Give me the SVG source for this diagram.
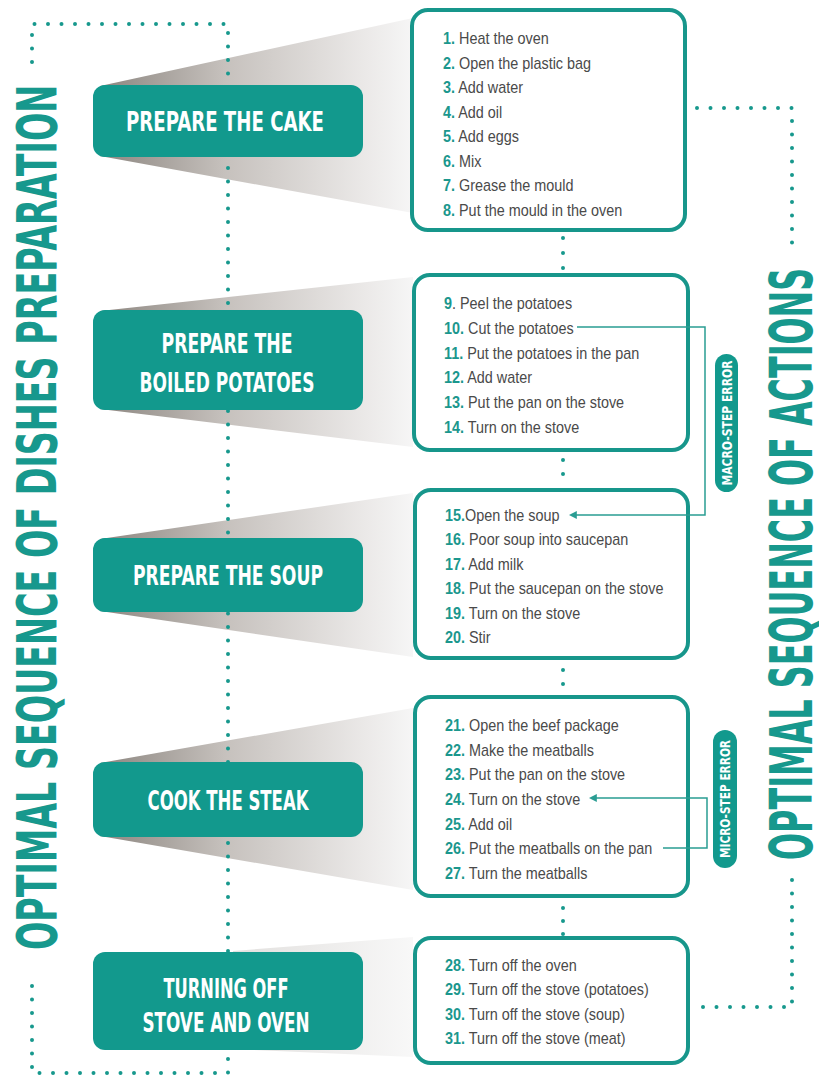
<svg xmlns="http://www.w3.org/2000/svg" width="819" height="1078" viewBox="0 0 819 1078">
  <defs>
    <style>
      .title { font-family: "DejaVu Sans Condensed", "DejaVu Sans", sans-serif; font-stretch: condensed; font-weight: bold; fill: #17988d; }
      .dish-box { fill: #12998d; }
      .dish-text { font-family: "DejaVu Sans Condensed", "DejaVu Sans", sans-serif; font-stretch: condensed; font-weight: bold; font-size: 27px; fill: #ffffff; text-anchor: middle; }
      .step-box { fill: #ffffff; stroke: #17968b; stroke-width: 4; }
      .step { font-family: "Liberation Sans", Arial, sans-serif; font-size: 16px; fill: #4a4a4a; }
      .n { font-weight: bold; fill: #1b978d; }
      .dots { fill: none; stroke: #17988d; stroke-width: 4; stroke-linecap: round; }
      .link { fill: none; stroke: #2a9d93; stroke-width: 1.5; }
      .pill { fill: #12998d; }
      .pill-text { font-family: "DejaVu Sans Condensed", "DejaVu Sans", sans-serif; font-stretch: condensed; font-weight: bold; font-size: 14px; fill: #ffffff; text-anchor: middle; }
    </style>
    <linearGradient id="fan" gradientUnits="userSpaceOnUse" x1="100" y1="0" x2="413" y2="0">
      <stop offset="0" stop-color="#8c8680"/>
      <stop offset="0.4" stop-color="#c6c1bd"/>
      <stop offset="0.85" stop-color="#ebe9e8"/>
      <stop offset="1" stop-color="#f6f6f6"/>
    </linearGradient>
    <linearGradient id="fan-pale" gradientUnits="userSpaceOnUse" x1="233" y1="0" x2="413" y2="0">
      <stop offset="0" stop-color="#e2e0de"/>
      <stop offset="1" stop-color="#f8f8f8"/>
    </linearGradient>
    <marker id="arrow" viewBox="0 0 10 10" refX="1" refY="5" markerWidth="8" markerHeight="8" orient="auto" markerUnits="userSpaceOnUse">
      <path d="M10,5 L0,0 L0,10 Z" fill="#2a9d93"/>
    </marker>
  </defs>

  <rect width="819" height="1078" fill="#ffffff"/>

  <!-- fan-shaped shading from each dish to its list of actions -->
  <g id="shading">
    <polygon points="100,86 413,18 413,213 100,156" fill="url(#fan)"/>
    <polygon points="100,311 413,277 413,447 100,409" fill="url(#fan)"/>
    <polygon points="100,539 413,493 413,657 100,611" fill="url(#fan)"/>
    <polygon points="100,763 413,708 413,890 100,836" fill="url(#fan)"/>
    <polygon points="233,951 413,937 413,1057 233,1049" fill="url(#fan-pale)"/>
  </g>

  <!-- dotted frames and the chain between the lists -->
  <g id="connectors">
    <path class="dots" stroke-dasharray="0 13.5" d="M32,62 V24 H228 V1073 H32 V978"/>
    <path class="dots" stroke-dasharray="0 13.5" d="M697,108 H792 V256"/>
    <path class="dots" stroke-dasharray="0 13.5" d="M792,880 V1007 H697"/>
    <path class="dots" stroke-dasharray="0 15" d="M563,238 V272"/>
    <path class="dots" stroke-dasharray="0 14" d="M563,460 V488"/>
    <path class="dots" stroke-dasharray="0 14" d="M563,670 V696"/>
    <path class="dots" stroke-dasharray="0 13" d="M563,908 V936"/>
  </g>

  <!-- side titles (narrowed along the reading direction) -->
  <g id="title-dishes">
    <text class="title" font-size="55" transform="translate(56,950) rotate(-90) scale(0.6,1)" textLength="1442" lengthAdjust="spacingAndGlyphs">OPTIMAL  SEQUENCE  OF  DISHES  PREPARATION</text>
  </g>
  <g id="title-actions">
    <text class="title" font-size="58" transform="translate(812,860) rotate(-90) scale(0.6,1)" textLength="987" lengthAdjust="spacingAndGlyphs">OPTIMAL SEQUENCE OF ACTIONS</text>
  </g>

  <!-- dishes -->
  <g id="dish-cake">
    <rect class="dish-box" x="93" y="85" width="270" height="72" rx="12"/>
    <text class="dish-text" x="225" y="131" textLength="198" lengthAdjust="spacingAndGlyphs">PREPARE THE CAKE</text>
  </g>
  <g id="dish-potatoes">
    <rect class="dish-box" x="93" y="310" width="270" height="100" rx="12"/>
    <text class="dish-text" x="227" y="353" textLength="131" lengthAdjust="spacingAndGlyphs">PREPARE THE</text>
    <text class="dish-text" x="227" y="392" textLength="175" lengthAdjust="spacingAndGlyphs">BOILED POTATOES</text>
  </g>
  <g id="dish-soup">
    <rect class="dish-box" x="93" y="538" width="270" height="74" rx="12"/>
    <text class="dish-text" x="228" y="585" textLength="190" lengthAdjust="spacingAndGlyphs">PREPARE THE SOUP</text>
  </g>
  <g id="dish-steak">
    <rect class="dish-box" x="93" y="762" width="270" height="75" rx="12"/>
    <text class="dish-text" x="228" y="810" textLength="161" lengthAdjust="spacingAndGlyphs">COOK THE STEAK</text>
  </g>
  <g id="dish-off">
    <rect class="dish-box" x="93" y="952" width="270" height="98" rx="12"/>
    <text class="dish-text" x="226" y="998" textLength="125" lengthAdjust="spacingAndGlyphs">TURNING OFF</text>
    <text class="dish-text" x="226" y="1032" textLength="167" lengthAdjust="spacingAndGlyphs">STOVE AND OVEN</text>
  </g>

  <!-- action lists -->
  <g id="steps-cake">
    <rect class="step-box" x="412" y="10" width="273" height="220" rx="16"/>
    <g transform="translate(443,0) scale(0.9,1)">
      <text class="step" x="0" y="44"><tspan class="n">1.</tspan> Heat the oven</text>
      <text class="step" x="0" y="68.6"><tspan class="n">2.</tspan> Open the plastic bag</text>
      <text class="step" x="0" y="93.1"><tspan class="n">3.</tspan> Add water</text>
      <text class="step" x="0" y="117.7"><tspan class="n">4.</tspan> Add oil</text>
      <text class="step" x="0" y="142.3"><tspan class="n">5.</tspan> Add eggs</text>
      <text class="step" x="0" y="166.9"><tspan class="n">6.</tspan> Mix</text>
      <text class="step" x="0" y="191.4"><tspan class="n">7.</tspan> Grease the mould</text>
      <text class="step" x="0" y="216"><tspan class="n">8.</tspan> Put the mould in the oven</text>
    </g>
  </g>
  <g id="steps-potatoes">
    <rect class="step-box" x="414" y="275" width="274" height="175" rx="16"/>
    <g transform="translate(444,0) scale(0.9,1)">
      <text class="step" x="0" y="309"><tspan class="n">9</tspan>. Peel the potatoes</text>
      <text class="step" x="0" y="333.8"><tspan class="n">10.</tspan> Cut the potatoes</text>
      <text class="step" x="0" y="358.6"><tspan class="n">11.</tspan> Put the potatoes in the pan</text>
      <text class="step" x="0" y="383.4"><tspan class="n">12.</tspan> Add water</text>
      <text class="step" x="0" y="408.2"><tspan class="n">13.</tspan> Put the pan on the stove</text>
      <text class="step" x="0" y="433"><tspan class="n">14.</tspan> Turn on the stove</text>
    </g>
  </g>
  <g id="steps-soup">
    <rect class="step-box" x="415" y="490" width="273" height="168" rx="16"/>
    <g transform="translate(445,0) scale(0.9,1)">
      <text class="step" x="0" y="521"><tspan class="n">15.</tspan>Open the soup</text>
      <text class="step" x="0" y="545.4"><tspan class="n">16.</tspan> Poor soup into saucepan</text>
      <text class="step" x="0" y="569.8"><tspan class="n">17.</tspan> Add milk</text>
      <text class="step" x="0" y="594.2"><tspan class="n">18.</tspan> Put the saucepan on the stove</text>
      <text class="step" x="0" y="618.6"><tspan class="n">19.</tspan> Turn on the stove</text>
      <text class="step" x="0" y="643"><tspan class="n">20.</tspan> Stir</text>
    </g>
  </g>
  <g id="steps-steak">
    <rect class="step-box" x="415" y="697" width="273" height="199" rx="16"/>
    <g transform="translate(445,0) scale(0.9,1)">
      <text class="step" x="0" y="731"><tspan class="n">21.</tspan> Open the beef package</text>
      <text class="step" x="0" y="755.7"><tspan class="n">22.</tspan> Make the meatballs</text>
      <text class="step" x="0" y="780.3"><tspan class="n">23.</tspan> Put the pan on the stove</text>
      <text class="step" x="0" y="805"><tspan class="n">24.</tspan> Turn on the stove</text>
      <text class="step" x="0" y="829.7"><tspan class="n">25.</tspan> Add oil</text>
      <text class="step" x="0" y="854.3"><tspan class="n">26.</tspan> Put the meatballs on the pan</text>
      <text class="step" x="0" y="879"><tspan class="n">27.</tspan> Turn the meatballs</text>
    </g>
  </g>
  <g id="steps-off">
    <rect class="step-box" x="415" y="938" width="273" height="125" rx="16"/>
    <g transform="translate(445,0) scale(0.9,1)">
      <text class="step" x="0" y="971"><tspan class="n">28.</tspan> Turn off the oven</text>
      <text class="step" x="0" y="995.3"><tspan class="n">29.</tspan> Turn off the stove (potatoes)</text>
      <text class="step" x="0" y="1019.7"><tspan class="n">30.</tspan> Turn off the stove (soup)</text>
      <text class="step" x="0" y="1044"><tspan class="n">31.</tspan> Turn off the stove (meat)</text>
    </g>
  </g>

  <!-- error links between actions, drawn over the lists -->
  <g id="error-links">
    <path class="link" d="M577,327 H705 V515 H576" marker-end="url(#arrow)"/>
    <path class="link" d="M663,848 H707 V798 H596" marker-end="url(#arrow)"/>
  </g>

  <!-- error labels -->
  <g id="macro-error">
    <rect class="pill" x="715" y="354" width="23" height="138" rx="11.5"/>
    <text class="pill-text" transform="translate(731.5,423) rotate(-90)" textLength="125" lengthAdjust="spacingAndGlyphs">MACRO-STEP ERROR</text>
  </g>
  <g id="micro-error">
    <rect class="pill" x="713" y="730" width="24" height="138" rx="12"/>
    <text class="pill-text" transform="translate(730,799) rotate(-90)" textLength="118" lengthAdjust="spacingAndGlyphs">MICRO-STEP ERROR</text>
  </g>
</svg>
